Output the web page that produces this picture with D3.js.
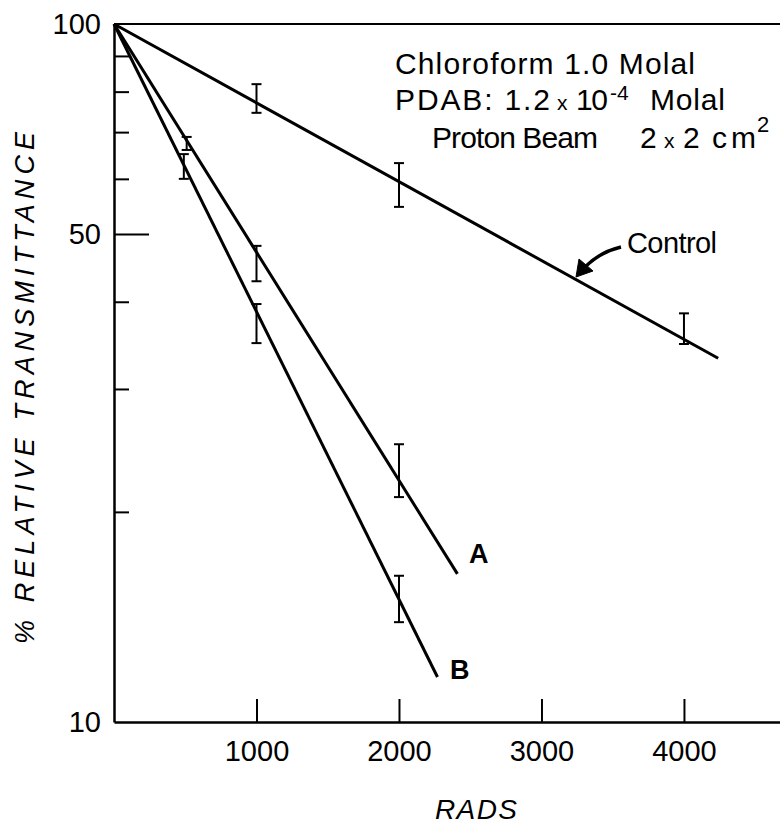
<!DOCTYPE html>
<html>
<head>
<meta charset="utf-8">
<script src="https://cdn.jsdelivr.net/npm/d3@7/dist/d3.min.js"></script>
<style>
  body { margin: 0; background: #fff; }
  svg { display: block; }
  text { font-family: "Liberation Sans", Arial, sans-serif; fill: #000; }
</style>
</head>
<body>
<svg id="chart" width="780" height="824"></svg>
<script>
// ---- data ----
const xTicks = [1000, 2000, 3000, 4000];
const yTicks = [10, 20, 30, 40, 50, 60, 70, 80, 90, 100];
const yLabeled = [10, 50, 100];

// fitted straight lines (on log scale) : [rads, % transmittance]
const controlLine = [[0, 100], [4240, 33.2]];
const lineA = [[0, 100], [2410, 16.3]];
const lineB = [[0, 100], [2270, 11.6]];

// error bars: [rads, low, high]
const controlErr = [[1000, 74.6, 82.0], [2000, 54.7, 63.2], [4000, 34.8, 38.5]];
const errA = [[510, 66.0, 68.9], [1000, 42.8, 48.1], [2000, 21.0, 25.0]];
const errB = [[490, 60.0, 65.1], [1000, 34.9, 39.7], [2000, 13.9, 16.2]];

// ---- drawing ----
const svg = d3.select("#chart");
svg.append("rect").attr("width", 780).attr("height", 824).attr("fill", "#fff");

const x = d3.scaleLinear().domain([0, 4674]).range([114, 780]);
const y = d3.scaleLog().domain([10, 100]).range([722, 24]);

// top frame line
svg.append("line")
  .attr("x1", x(0)).attr("x2", 780)
  .attr("y1", y(100)).attr("y2", y(100))
  .attr("stroke", "#000").attr("stroke-width", 2);

// x axis
const gx = svg.append("g")
  .attr("transform", `translate(0,${y(10)})`)
  .call(d3.axisBottom(x).tickValues(xTicks).tickSizeInner(-23).tickSizeOuter(0)
        .tickPadding(18).tickFormat(d3.format("d")));
gx.select(".domain").attr("stroke-width", 2.5);
gx.selectAll(".tick line").attr("stroke-width", 2);
gx.selectAll(".tick text").attr("font-size", 29).attr("font-family", "Liberation Sans, Arial, sans-serif");

// y axis
const gy = svg.append("g")
  .attr("transform", `translate(${x(0)},0)`)
  .call(d3.axisLeft(y).tickValues(yTicks).tickSizeInner(-15).tickSizeOuter(0)
        .tickPadding(13).tickFormat(d => yLabeled.includes(d) ? String(d) : ""));
gy.select(".domain").attr("stroke-width", 2.5);
gy.selectAll(".tick line").attr("stroke-width", 2)
  .attr("x2", d => d === 50 ? 35 : (d === 10 || d === 100 ? 0 : 15));
gy.selectAll(".tick text").attr("font-size", 29).attr("font-family", "Liberation Sans, Arial, sans-serif");

// fitted lines
const line = d3.line().x(d => x(d[0])).y(d => y(d[1]));
[controlLine, lineA, lineB].forEach(L => {
  svg.append("path").attr("d", line(L))
    .attr("fill", "none").attr("stroke", "#000").attr("stroke-width", 3)
    .attr("stroke-linecap", "butt");
});

// error bars
const capW = 5;
[controlErr, errA, errB].forEach(E => {
  const g = svg.append("g").attr("stroke", "#000").attr("stroke-width", 2);
  g.selectAll("line.v").data(E).join("line")
    .attr("x1", d => x(d[0])).attr("x2", d => x(d[0]))
    .attr("y1", d => y(d[1])).attr("y2", d => y(d[2]));
  g.selectAll("line.lo").data(E).join("line")
    .attr("x1", d => x(d[0]) - capW).attr("x2", d => x(d[0]) + capW)
    .attr("y1", d => y(d[1])).attr("y2", d => y(d[1]));
  g.selectAll("line.hi").data(E).join("line")
    .attr("x1", d => x(d[0]) - capW).attr("x2", d => x(d[0]) + capW)
    .attr("y1", d => y(d[2])).attr("y2", d => y(d[2]));
});

// axis titles
svg.append("text")
  .attr("transform", "translate(34,388) rotate(-90)")
  .attr("text-anchor", "middle")
  .attr("font-size", 27).attr("font-style", "italic")
  .attr("textLength", 512).attr("lengthAdjust", "spacing")
  .text("% RELATIVE  TRANSMITTANCE");

svg.append("text")
  .attr("x", 476).attr("y", 819)
  .attr("text-anchor", "middle")
  .attr("font-size", 28).attr("font-style", "italic")
  .attr("textLength", 82).attr("lengthAdjust", "spacing")
  .text("RADS");

// annotation block
svg.append("text").attr("x", 395).attr("y", 74).attr("font-size", 30)
  .attr("textLength", 300).attr("lengthAdjust", "spacing")
  .text("Chloroform  1.0 Molal");

svg.append("text").attr("x", 395).attr("y", 110).attr("font-size", 30)
  .attr("textLength", 155).attr("lengthAdjust", "spacing").text("PDAB: 1.2");
svg.append("text").attr("x", 557).attr("y", 110).attr("font-size", 21).text("x");
svg.append("text").attr("x", 576).attr("y", 110).attr("font-size", 30)
  .attr("textLength", 32).attr("lengthAdjust", "spacing").text("10");
svg.append("text").attr("x", 610).attr("y", 100).attr("font-size", 21).text("-4");
svg.append("text").attr("x", 650).attr("y", 110).attr("font-size", 30)
  .attr("textLength", 75).attr("lengthAdjust", "spacing").text("Molal");

svg.append("text").attr("x", 432).attr("y", 148).attr("font-size", 30)
  .attr("textLength", 166).attr("lengthAdjust", "spacing").text("Proton Beam");
svg.append("text").attr("x", 640).attr("y", 148).attr("font-size", 30).text("2");
svg.append("text").attr("x", 664).attr("y", 148).attr("font-size", 21).text("x");
svg.append("text").attr("x", 683).attr("y", 148).attr("font-size", 30).text("2");
svg.append("text").attr("x", 712).attr("y", 148).attr("font-size", 30)
  .attr("textLength", 44).attr("lengthAdjust", "spacing").text("cm");
svg.append("text").attr("x", 757).attr("y", 132).attr("font-size", 22).text("2");

// Control label + arrow
svg.append("text").attr("x", 627).attr("y", 253).attr("font-size", 29)
  .attr("textLength", 90).attr("lengthAdjust", "spacing").text("Control");
svg.append("path")
  .attr("d", "M621,247 Q600,252 585,267")
  .attr("fill", "none").attr("stroke", "#000").attr("stroke-width", 3.5);
svg.append("path")
  .attr("d", "M576,277 L579,259 L593,271 Z")
  .attr("fill", "#000").attr("stroke", "#000").attr("stroke-width", 1);

// line labels
svg.append("text").attr("x", 469).attr("y", 563).attr("font-size", 27)
  .attr("font-weight", "bold").text("A");
svg.append("text").attr("x", 450).attr("y", 679).attr("font-size", 27)
  .attr("font-weight", "bold").text("B");
</script>
</body>
</html>
